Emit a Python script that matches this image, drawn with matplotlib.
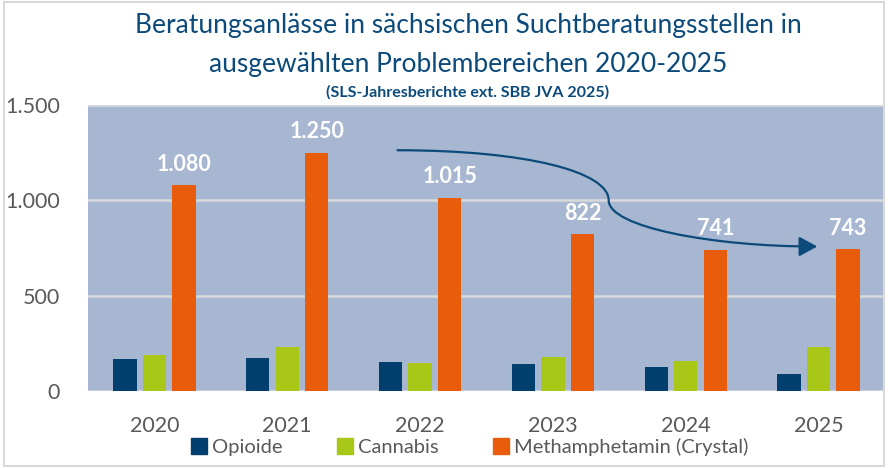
import numpy as np
import matplotlib.pyplot as plt
from matplotlib.path import Path
from matplotlib.patches import FancyArrowPatch, Rectangle
from matplotlib.lines import Line2D

years = ["2020", "2021", "2022", "2023", "2024", "2025"]
opioide = [167, 172, 151, 142, 126, 89]
cannabis = [189, 230, 147, 179, 160, 230]
crystal = [1080, 1250, 1015, 822, 741, 743]
crystal_labels = ["1.080", "1.250", "1.015", "822", "741", "743"]
series_names = ["Opioide", "Cannabis", "Methamphetamin (Crystal)"]

c_opi = "#003F6E"
c_can = "#A9C716"
c_cry = "#E85C0C"
c_bg = "#A7B7D1"
c_grid = "#D9D9D9"
c_text = "#595959"
c_title = "#0B4A7A"

plt.rcParams['font.family'] = ['Lato', 'DejaVu Sans']

fig = plt.figure(figsize=(8.88, 4.68), dpi=100)
fig.patches.append(Rectangle((0.004, 0.004), 0.992, 0.992, transform=fig.transFigure,
                             fill=False, edgecolor="#D9D9D9", linewidth=1.5))

ax = fig.add_axes([0.0991, 0.1645, 0.8975, 0.611])
ax.set_facecolor(c_bg)

x = np.arange(len(years))
w = 0.175
step = 0.222
ax.bar(x - step, opioide, w, color=c_opi, zorder=3)
ax.bar(x, cannabis, w, color=c_can, zorder=3)
ax.bar(x + step, crystal, w, color=c_cry, zorder=3)

for xi, v, lab in zip(x, crystal, crystal_labels):
    ax.text(xi + step, v + 55, lab, ha="center", va="bottom", color="white",
            fontsize=15.5, fontweight="bold", zorder=4)

ax.set_xlim(-0.5, len(years) - 0.5)
ax.set_ylim(0, 1500)
ax.set_yticks([0, 500, 1000, 1500])
ax.set_yticklabels(["0", "500", "1.000", "1.500"])
ax.set_xticks(x)
ax.set_xticklabels(years)
ax.tick_params(axis="both", length=0, labelsize=15.5, labelcolor=c_text)
ax.tick_params(axis="x", pad=18)
ax.tick_params(axis="y", pad=20)
ax.yaxis.grid(True, color=c_grid, linewidth=1.8, zorder=1)
ax.set_axisbelow(True)
for s in ax.spines.values():
    s.set_visible(False)
ax.axhline(0, color="#C8CFDA", linewidth=1.5, zorder=2)

# trend arrow (S-curve)
verts = [(1.83, 1263), (2.8, 1263), (3.42, 1150), (3.42, 1000),
         (3.42, 860), (4.2, 758), (4.99, 758)]
codes = [Path.MOVETO, Path.CURVE4, Path.CURVE4, Path.CURVE4,
         Path.CURVE4, Path.CURVE4, Path.CURVE4]
arrow = FancyArrowPatch(path=Path(verts, codes), arrowstyle="-|>,head_length=11,head_width=6",
                        color=c_title, linewidth=1.6, zorder=5)
ax.add_patch(arrow)

fig.text(0.527, 0.945, "Beratungsanlässe in sächsischen Suchtberatungsstellen in",
         ha="center", va="center", fontsize=19, color=c_title)
fig.text(0.527, 0.862, "ausgewählten Problembereichen 2020-2025",
         ha="center", va="center", fontsize=19, color=c_title)
fig.text(0.527, 0.803, "(SLS-Jahresberichte ext. SBB JVA 2025)",
         ha="center", va="center", fontsize=11.5, fontweight="bold", color=c_title)

handles = [Line2D([], [], marker="s", linestyle="none", markersize=12, color=c)
           for c in (c_opi, c_can, c_cry)]
fig.legend(handles, series_names, loc="center", bbox_to_anchor=(0.5276, 0.045), ncol=3,
           frameon=False, fontsize=14.5, labelcolor=c_text, handletextpad=0.15,
           columnspacing=2.6, handlelength=1.0)

fig.savefig("out.png", dpi=100)
